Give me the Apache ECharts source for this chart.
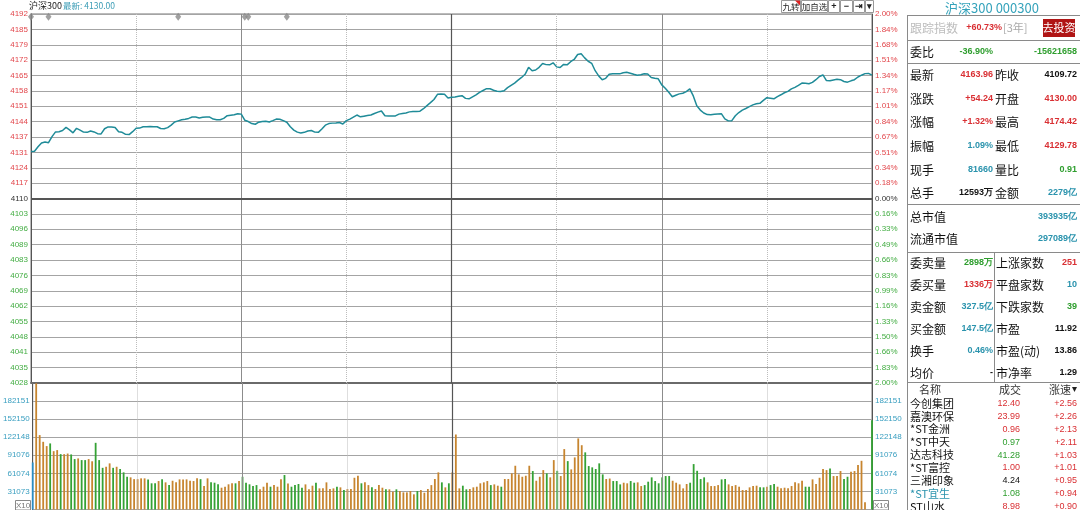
<!DOCTYPE html>
<html><head><meta charset="utf-8">
<script src="https://cdn.jsdelivr.net/npm/echarts@6/dist/echarts.min.js"></script>
<style>html,body{margin:0;padding:0;background:#fff;width:1080px;height:510px;overflow:hidden}#c{width:1080px;height:510px}</style>
</head><body><div id="c"></div><script>
// ---------- DATA ----------
const priceTicks = ['4192','4185','4179','4172','4165','4158','4151','4144','4137','4131','4124','4117','4110','4103','4096','4089','4083','4076','4069','4062','4055','4048','4041','4035','4028'];
const pctTicks = ['2.00%','1.84%','1.68%','1.51%','1.34%','1.17%','1.01%','0.84%','0.67%','0.51%','0.34%','0.18%','0.00%','0.16%','0.33%','0.49%','0.66%','0.83%','0.99%','1.16%','1.33%','1.50%','1.66%','1.83%','2.00%'];
const volTicks = ['0','31073','61074','91076','122148','152150','182151',''];
const priceMin = 4028, priceMax = 4192, priceMid = 4110;
const volMax = 212500;
const prices = [
4130.9,4131.0,4133.0,4134.7,4135.1,4134.8,4137.5,4139.6,4139.7,4140.2,
4141.6,4140.5,4139.2,4141.2,4140.4,4139.5,4139.4,4140.0,4139.6,4138.8,
4138.7,4141.0,4141.8,4141.8,4141.6,4139.7,4139.4,4138.5,4138.4,4139.7,
4141.2,4141.3,4141.9,4141.9,4142.0,4141.9,4141.9,4141.1,4141.0,4141.5,
4142.6,4144.0,4144.5,4145.0,4145.2,4145.6,4146.2,4146.2,4145.8,4146.1,
4146.2,4146.2,4145.3,4145.0,4145.0,4145.6,4146.8,4147.0,4147.2,4147.7,
4147.5,4144.8,4144.2,4143.3,4143.0,4143.9,4144.2,4144.3,4144.0,4144.6,
4145.3,4145.2,4144.6,4143.9,4141.9,4140.4,4139.5,4139.1,4139.4,4140.0,
4140.2,4139.5,4139.4,4140.9,4142.6,4143.3,4143.5,4143.6,4143.8,4143.1,
4144.6,4145.3,4146.2,4147.1,4146.3,4146.6,4146.9,4147.1,4147.8,4148.4,
4148.9,4146.8,4146.7,4146.7,4146.7,4147.5,4147.8,4148.0,4148.5,4148.7,
4148.7,4148.8,4149.9,4151.3,4152.6,4154.0,4156.3,4156.4,4156.3,4154.7,
4155.0,
4155.1,4155.4,4155.7,4154.5,4154.3,4155.2,4156.1,4157.2,4158.0,
4158.8,4158.8,4158.1,4157.7,4157.6,4157.9,4159.3,4160.3,4161.3,4162.6,
4163.8,4165.2,4168.3,4166.8,4167.1,4168.3,4170.0,4169.5,4169.4,4170.3,
4168.5,4168.2,4169.6,4169.4,4170.8,4171.8,4174.0,4174.3,4172.5,4171.0,
4170.1,4166.8,4164.5,4162.8,4163.4,4165.2,4165.4,4165.4,4165.4,4165.9,
4166.1,4165.7,4165.2,4164.8,4165.0,4165.4,4165.3,4163.8,4163.4,4163.2,
4160.5,4159.0,4157.2,4155.2,4155.9,4156.5,4156.8,4157.5,4158.7,4155.6,
4151.2,4149.3,4148.0,4147.3,4147.2,4147.4,4147.6,4147.7,4145.4,4144.5,
4144.6,4146.8,4148.2,4149.3,4150.0,4150.8,4151.6,4152.1,4152.3,4153.6,
4154.8,4154.6,4154.3,4155.3,4156.1,4157.0,4157.6,4158.7,4159.4,4160.3,
4161.3,4161.2,4161.0,4161.6,4162.8,4164.2,4164.9,4162.4,4162.3,4162.7,
4163.0,4162.8,4162.0,4161.7,4162.3,4162.8,4164.0,4164.8,4165.5,4165.6,
4164.8];
const volumes = [
79000,212000,125000,113700,106500,111000,98000,99800,93000,93000,
94000,92500,84700,85800,83000,83000,84700,81000,112000,83000,
70000,71800,77500,70000,71800,68000,62400,55000,54000,51000,
51000,52300,52300,50600,44000,44000,47800,51000,45600,41000,
48300,45600,50600,50600,50600,48300,47800,52300,51000,39400,
52300,45600,45000,42300,36600,38300,42300,44000,44000,47800,
55000,45000,42300,39400,41000,33900,38300,45000,38300,41000,
38300,51000,57900,43600,38300,41000,42800,36600,42200,33900,
40000,45000,35500,35500,45600,34400,35500,38300,37200,32700,
34400,34400,53300,56700,44000,45600,41000,37200,34400,41000,
36600,33900,33900,29900,33900,31000,28800,28800,31000,25500,
31000,32700,28200,34400,41000,51200,62400,45600,37200,44000,
62400,126000,35500,40000,33900,34400,37200,38300,44000,45600,
47800,41000,42200,40000,38300,51200,51200,60700,73500,59000,
55000,56700,73500,64600,48300,55000,66200,60700,54000,83000,
65000,56200,101500,81300,67400,87500,119400,108000,96000,73000,
70800,68000,77500,59000,51200,52000,47800,47800,42200,45000,
44000,47800,45000,45600,39400,41000,46700,54000,47800,44000,
54000,56200,56200,48300,45000,42200,35500,42800,45000,76300,
65000,51200,54000,45600,39400,39400,41000,50600,51200,42200,
39400,41000,38300,32700,32700,37200,39400,40000,37200,37200,
38300,41000,42800,38300,35500,36600,35500,39400,45600,44000,
48300,38300,38300,50600,42800,53300,68000,66200,68900,56200,
56200,64600,51200,55000,63500,64600,74600,81800,12000,0,
150000];
// u = up minute, d = down minute, n = auction
const volDir = ('nuuuuduudu'+'uddudduudd'+'duududdduu'+'uuudddudud'+'uuuuuuuudu'+
 'uddduuuudu'+'ddddduuudu'+'uududddduu'+'uduuuuudud'+'uuuuduuduu'+
 'uduuduuuuu'+'duuuuuudud'+'uuudduuuuu'+'uduuduuuuu'+'uuuduuuduu'+
 'duuduuuudd'+'dddduudddu'+'udduuddddd'+'ddduuuuudd'+'ddduuuuddu'+
 'uuuuuuuudd'+'udduuuuuuu'+'udduuuuudu'+'uudduuuuuu'+'d').split('');
const eventIdx = [0,5,42,61,62,73];
const eventLevel = 4190.8;
const headerName = '沪深300', headerLast = '最新: 4130.00';
const toolbar = ['九转','加自选','+','−','⇥','▾'];
const panelTitle = '沪深300 000300';
const trackRow = ['跟踪指数','+60.73%','[3年]','去投资'];
const weibiRow = ['委比','-36.90%','-15621658'];
const quoteRows = [
 ['最新','4163.96','r','昨收','4109.72','k'],
 ['涨跌','+54.24','r','开盘','4130.00','r'],
 ['涨幅','+1.32%','r','最高','4174.42','r'],
 ['振幅','1.09%','t','最低','4129.78','r'],
 ['现手','81660','t','量比','0.91','g'],
 ['总手','12593万','k','金额','2279亿','t']];
const capRows = [['总市值','393935亿'],['流通市值','297089亿']];
const bookRows = [
 ['委卖量','2898万','g','上涨家数','251','r'],
 ['委买量','1336万','r','平盘家数','10','t'],
 ['卖金额','327.5亿','t','下跌家数','39','g'],
 ['买金额','147.5亿','t','市盈','11.92','k'],
 ['换手','0.46%','t','市盈(动)','13.86','k'],
 ['均价','-','k','市净率','1.29','k']];
const listHeader = ['名称','成交','涨速'];
const stocks = [
 ['今创集团','k','12.40','r','+2.56'],
 ['嘉澳环保','k','23.99','r','+2.26'],
 ['*ST金洲','k','0.96','r','+2.13'],
 ['*ST中天','k','0.97','g','+2.11'],
 ['达志科技','k','41.28','g','+1.03'],
 ['*ST富控','k','1.00','r','+1.01'],
 ['三湘印象','k','4.24','k','+0.95'],
 ['*ST宜生','t','1.08','g','+0.94'],
 ['ST山水','k','8.98','r','+0.90']];

// ---------- BUILD ----------
const pad = n => (n < 10 ? '0' : '') + n;
const times = [];
for (let m = 0; m <= 120; m++) { const t = 570 + m; times.push(pad(Math.floor(t/60)) + ':' + pad(t%60)); }
for (let m = 1; m <= 120; m++) { const t = 780 + m; times.push(pad(Math.floor(t/60)) + ':' + pad(t%60)); }

const RED = '#d92f33', GREEN = '#2e9e2e', TEAL = '#2a93ad', BLACK = '#111';
const AX_RED = '#e2474c', AX_GREEN = '#43ad43', AX_TEAL = '#3a9fc0';
const CMAP = {r: RED, g: GREEN, t: TEAL, k: BLACK};
const GRIDC = '#a4a4a4';
const CJK = '"Noto Sans CJK SC", sans-serif';
const NUMF = '"Liberation Sans", Arial, sans-serif';

const G = [];
function T(x, y, text, fill, size, family, weight, align) {
  G.push({type:'text', x, y, silent:true, z:100, style:{text, fill, fontSize:size, fontFamily:family, fontWeight:weight||'normal',
    align:align||'left', verticalAlign:'middle', textAlign:align||'left', textVerticalAlign:'middle'}});
}
function L(x1, y1, x2, y2, stroke, w) {
  G.push({type:'line', silent:true, z:100, shape:{x1, y1, x2, y2}, style:{stroke, lineWidth:w||1}});
}
function R(x, y, w, h, fill, stroke) {
  G.push({type:'rect', silent:true, z:99, shape:{x, y, width:w, height:h}, style:{fill:fill||'none', stroke:stroke||'none', lineWidth:1}});
}

// header
T(29, 6, headerName, '#222', 9, CJK);
T(63, 6, headerLast, '#3a9cb5', 8.5, CJK);
// toolbar
const tb = [[781,19],[801,26],[828,11],[840,12],[853,11],[865,8]];
tb.forEach((b, i) => {
  R(b[0]+0.5, 0.5, b[1], 12, '#fff', '#999');
  T(b[0] + b[1]/2 + 0.5, 6.8, toolbar[i], '#222', i < 2 ? 8.5 : 9, i < 2 ? CJK : NUMF, i >= 2 ? 'bold' : 'normal', 'center');
});
G.push({type:'polygon', silent:true, z:101, shape:{points:[[795,0.5],[800,0.5],[800,5.5]]}, style:{fill:'#e02020'}});

// panel frame
L(907.5, 15, 907.5, 510, '#8a8a8a');
L(907, 15.5, 1080, 15.5, '#8a8a8a');
[40.5, 63.5, 204.5, 252.5, 382.5].forEach(y => L(907, y, 1080, y, '#8a8a8a'));
L(994.5, 252.5, 994.5, 382.5, '#8a8a8a');
T(992, 8, panelTitle, '#35a3bb', 13, CJK, 'normal', 'center');
// tracking row
T(910, 28, trackRow[0], '#bdbdbd', 12, CJK);
T(1002, 28, trackRow[1], RED, 9, NUMF, 'bold', 'right');
T(1003, 28, trackRow[2], '#aaa', 11, CJK);
R(1043, 19, 32, 18, '#b01515', null);
T(1059, 28, trackRow[3], '#fff', 11, CJK, 'normal', 'center');
// 委比
T(910, 52, weibiRow[0], BLACK, 12, CJK);
T(993, 52, weibiRow[1], GREEN, 9, NUMF, 'bold', 'right');
T(1077, 52, weibiRow[2], GREEN, 9, NUMF, 'bold', 'right');
// quote rows
const qy = [75, 99, 122, 146, 170, 193];
quoteRows.forEach((r, i) => {
  T(910, qy[i], r[0], BLACK, 12, CJK);
  T(993, qy[i], r[1], CMAP[r[2]], 9, NUMF, 'bold', 'right');
  T(995, qy[i], r[3], BLACK, 12, CJK);
  T(1077, qy[i], r[4], CMAP[r[5]], 9, NUMF, 'bold', 'right');
});
const cy = [217, 239];
capRows.forEach((r, i) => {
  T(910, cy[i], r[0], BLACK, 12, CJK);
  T(1077, cy[i], r[1], TEAL, 9, NUMF, 'bold', 'right');
});
const by = [263, 285, 307, 329, 351, 373];
bookRows.forEach((r, i) => {
  T(910, by[i], r[0], BLACK, 12, CJK);
  T(993, by[i], r[1], CMAP[r[2]], 9, NUMF, 'bold', 'right');
  T(996, by[i], r[3], BLACK, 12, CJK);
  T(1077, by[i], r[4], CMAP[r[5]], 9, NUMF, 'bold', 'right');
});
// stock list
T(930, 390, listHeader[0], '#333', 11, CJK, 'normal', 'center');
T(1010, 390, listHeader[1], '#333', 11, CJK, 'normal', 'center');
T(1071, 390, listHeader[2], '#333', 11, CJK, 'normal', 'right');
G.push({type:'polygon', silent:true, z:101, shape:{points:[[1072,387],[1077,387],[1074.5,392]]}, style:{fill:'#222'}});
stocks.forEach((s, i) => {
  const y = 403.5 + i * 12.9;
  T(910, y, s[0], CMAP[s[1]], 11, CJK);
  T(1020, y, s[2], CMAP[s[3]], 9, NUMF, 'normal', 'right');
  T(1077, y, s[4], RED, 9, NUMF, 'normal', 'right');
});
// X10 boxes
R(15.5, 500.5, 15, 9.5, '#fff', '#888');
T(23, 505.5, 'X10', '#777', 8, NUMF, 'normal', 'center');
R(873.5, 500.5, 15, 9.5, '#fff', '#888');
T(881, 505.5, 'X10', '#777', 8, NUMF, 'normal', 'center');

const vLines = [
  {xAxis:30, lineStyle:{color:'#bdbdbd', type:'dotted', width:1}},
  {xAxis:60, lineStyle:{color:'#8c8c8c', type:'solid', width:1}},
  {xAxis:90, lineStyle:{color:'#bdbdbd', type:'dotted', width:1}},
  {xAxis:120, lineStyle:{color:'#555', type:'solid', width:1.2}},
  {xAxis:150, lineStyle:{color:'#bdbdbd', type:'dotted', width:1}},
  {xAxis:180, lineStyle:{color:'#8c8c8c', type:'solid', width:1}},
  {xAxis:210, lineStyle:{color:'#bdbdbd', type:'dotted', width:1}}];

const priceLabelColor = v => { const k = 24 - Math.round(Number(v)); return k < 12 ? AX_RED : (k === 12 ? '#333' : AX_GREEN); };

const option = {
  animation: false,
  grid: [
    {left:31, right:208, top:14, height:369, show:true, borderColor:'#777', borderWidth:1},
    {left:31, right:208, top:383, height:126.5, show:true, borderColor:'#777', borderWidth:1}],
  xAxis: [
    {gridIndex:0, type:'category', data:times, boundaryGap:false, axisLine:{show:true, lineStyle:{color:'#6a6a6a', width:2}}, axisTick:{show:false}, axisLabel:{show:false}, splitLine:{show:false}},
    {gridIndex:1, type:'category', data:times, boundaryGap:false, axisLine:{show:false}, axisTick:{show:false}, axisLabel:{show:false}, splitLine:{show:false}}],
  yAxis: [
    {gridIndex:0, type:'value', min:priceMin, max:priceMax, show:false, splitLine:{show:false}},
    {gridIndex:0, type:'value', min:0, max:24, interval:1, position:'left',
      axisLine:{show:true, lineStyle:{color:'#555'}}, axisTick:{show:false},
      splitLine:{show:true, lineStyle:{color:GRIDC, width:1}},
      axisLabel:{margin:3, fontSize:8, fontFamily:NUMF, formatter:v => priceTicks[24 - Math.round(v)], color:priceLabelColor}},
    {gridIndex:0, type:'value', min:0, max:24, interval:1, position:'right',
      axisLine:{show:true, lineStyle:{color:'#555'}}, axisTick:{show:false}, splitLine:{show:false},
      axisLabel:{margin:3, fontSize:8, fontFamily:NUMF, formatter:v => pctTicks[24 - Math.round(v)], color:priceLabelColor}},
    {gridIndex:1, type:'value', min:0, max:volMax, show:false, splitLine:{show:false}},
    {gridIndex:1, type:'value', min:0, max:7, interval:1, position:'left',
      axisLine:{show:true, lineStyle:{color:'#555'}}, axisTick:{show:false},
      splitLine:{show:true, lineStyle:{color:GRIDC, width:1}},
      axisLabel:{margin:3, fontSize:8, fontFamily:NUMF, showMinLabel:false, showMaxLabel:false, formatter:v => volTicks[Math.round(v)], color:AX_TEAL}},
    {gridIndex:1, type:'value', min:0, max:7, interval:1, position:'right',
      axisLine:{show:true, lineStyle:{color:'#555'}}, axisTick:{show:false}, splitLine:{show:false},
      axisLabel:{margin:3, fontSize:8, fontFamily:NUMF, showMinLabel:false, showMaxLabel:false, formatter:v => volTicks[Math.round(v)], color:AX_TEAL}}],
  series: [
    {type:'line', xAxisIndex:0, yAxisIndex:0, data:prices, showSymbol:false, symbol:'none', silent:true,
      lineStyle:{color:'#1f8b98', width:1.5}, z:5,
      markLine:{symbol:['none','none'], silent:true, label:{show:false}, animation:false,
        data: vLines.concat([{yAxis:priceMid, lineStyle:{color:'#555', type:'solid', width:2}}])}},
    {type:'scatter', xAxisIndex:0, yAxisIndex:0, data:eventIdx.map(i => [i, eventLevel]), symbol:'diamond', symbolSize:[6,8],
      itemStyle:{color:'#8a8a8a'}, clip:false, silent:true, z:6},
    {type:'bar', xAxisIndex:1, yAxisIndex:3, data:volumes, barWidth:1.8, clip:false, silent:true,
      itemStyle:{color:p => volDir[p.dataIndex] === 'n' ? '#2a8cc4' : (volDir[p.dataIndex] === 'u' ? '#c7852f' : '#35a235')},
      markLine:{symbol:['none','none'], silent:true, label:{show:false}, animation:false, data:vLines}}],
  graphic: G
};
const chart = echarts.init(document.getElementById('c'), null, {renderer:'canvas'});
chart.setOption(option);
</script></body></html>
